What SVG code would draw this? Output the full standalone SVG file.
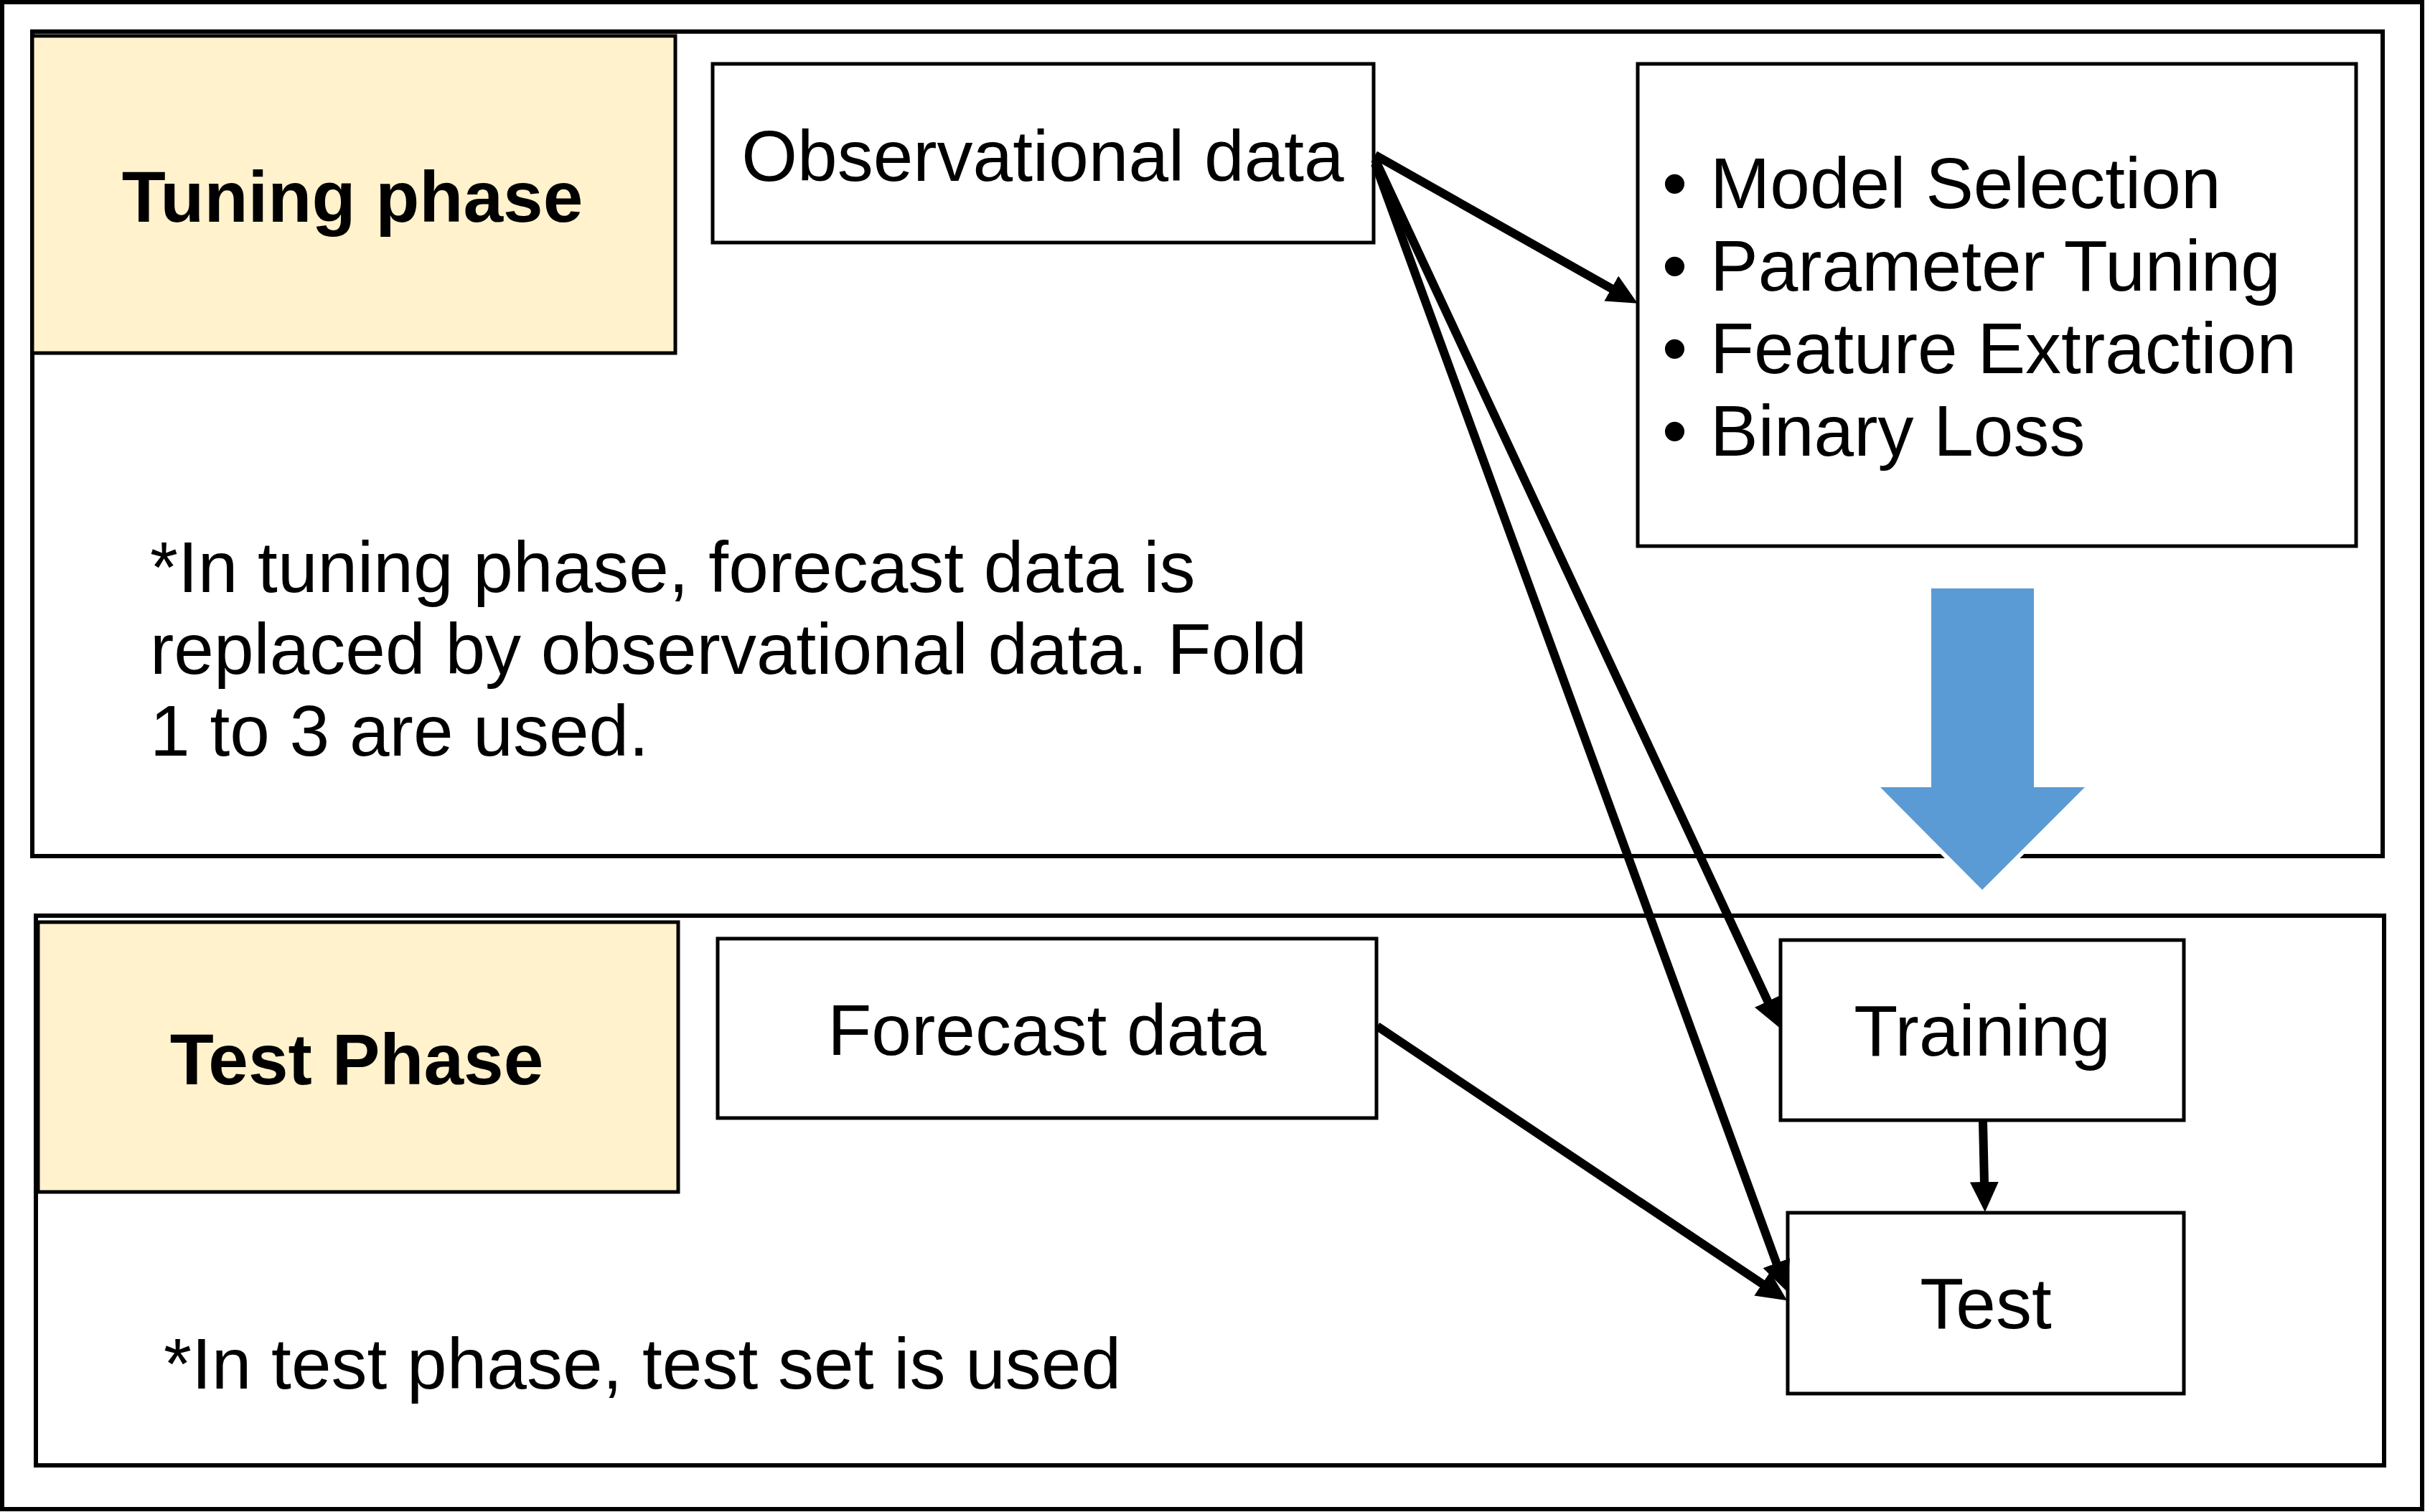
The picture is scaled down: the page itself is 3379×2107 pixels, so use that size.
<svg xmlns="http://www.w3.org/2000/svg" width="3379" height="2107" viewBox="0 0 3379 2107">
<style>
.box{fill:#fff;stroke:#000;stroke-width:5}
.phase{fill:#FFF2CC;stroke:#000;stroke-width:5}
.cont{fill:none;stroke:#000;stroke-width:6}
.t{font-family:"Liberation Sans",Arial,sans-serif;font-size:100px;fill:#000}
.b{font-weight:bold}
.c{text-anchor:middle}
.edge{stroke:#000;stroke-width:12;fill:none;marker-end:url(#ah)}
</style>
<defs>
<marker id="ah" markerUnits="userSpaceOnUse" markerWidth="44" markerHeight="42" refX="2" refY="21" orient="auto" viewBox="0 0 44 42">
<path d="M0,1 L42,21 L0,41 z" fill="#000"/>
</marker>
</defs>
<rect x="0" y="0" width="3379" height="2107" fill="#fff"/>
<rect id="outer" x="3" y="3" width="3372" height="2100" class="cont"/>
<g id="tuning-container"><rect x="45" y="44" width="3275" height="1149" class="cont"/></g>
<g id="test-container"><rect x="50" y="1276" width="3272" height="766" class="cont"/></g>
<g id="tuning-phase"><rect x="45" y="50" width="896" height="442" class="phase"/><text x="491" y="309" class="t b c">Tuning phase</text></g>
<g id="observational-data"><rect x="993" y="89" width="921" height="249" class="box"/><text x="1453" y="252" class="t c">Observational data</text></g>
<g id="tuning-tasks"><rect x="2282" y="89" width="1001" height="672" class="box"/>
<text class="t"><tspan x="2316" y="290">•</tspan><tspan x="2383" y="290">Model Selection</tspan><tspan x="2316" y="405">•</tspan><tspan x="2383" y="405">Parameter Tuning</tspan><tspan x="2316" y="520">•</tspan><tspan x="2383" y="520">Feature Extraction</tspan><tspan x="2316" y="635">•</tspan><tspan x="2383" y="635">Binary Loss</tspan></text></g>
<g id="tuning-note"><text class="t"><tspan x="209" y="825">*In tuning phase, forecast data is</tspan><tspan x="209" y="939">replaced by observational data. Fold</tspan><tspan x="209" y="1053">1 to 3 are used.</tspan></text></g>
<g id="test-phase"><rect x="53" y="1285" width="892" height="376" class="phase"/><text x="497" y="1511" class="t b c">Test Phase</text></g>
<g id="forecast-data"><rect x="1000" y="1308" width="918" height="250" class="box"/><text x="1459" y="1470" class="t c">Forecast data</text></g>
<g id="training"><rect x="2481" y="1310" width="562" height="251" class="box"/><text x="2762" y="1471" class="t c">Training</text></g>
<g id="test"><rect x="2491" y="1690" width="552" height="252" class="box"/><text x="2767" y="1851" class="t c">Test</text></g>
<g id="test-note"><text x="228" y="1935" class="t">*In test phase, test set is used</text></g>
<g id="transition-arrow"><path d="M2691,820 L2834,820 L2834,1097 L2905,1097 L2762,1240 L2620,1097 L2691,1097 z" fill="#5B9BD5" stroke="#fff" stroke-width="12" paint-order="stroke"/></g>
<g id="connectors">
<line x1="1916" y1="216" x2="2247" y2="403" class="edge"/>
<line x1="1916" y1="222" x2="2464" y2="1397" class="edge"/>
<line x1="1916" y1="228" x2="2476" y2="1762" class="edge"/>
<line x1="1919" y1="1430" x2="2457" y2="1790" class="edge"/>
<line x1="2763" y1="1562" x2="2765" y2="1649" class="edge"/>
</g>
</svg>
